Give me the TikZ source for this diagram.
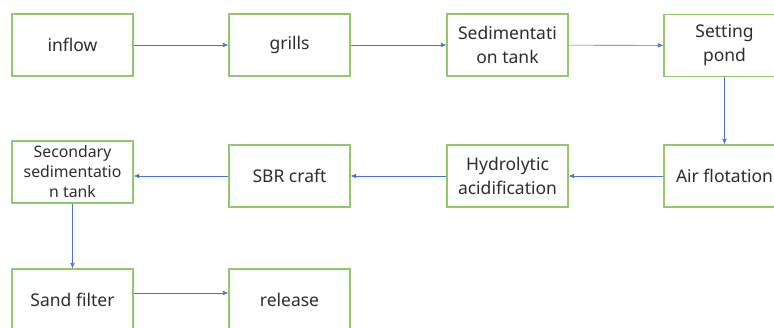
\documentclass[tikz,border=0pt]{standalone}
\usepackage{fontspec}
\setmainfont{Noto Sans}
\usetikzlibrary{arrows.meta}
\definecolor{boxgreen}{RGB}{146,200,110}
\definecolor{flowblue}{RGB}{72,118,205}
\definecolor{txtgray}{RGB}{45,45,45}

\begin{document}
\begin{tikzpicture}[x=1pt,y=-1pt,
    stepbox/.style={draw=boxgreen, line width=1.1pt, fill=white, minimum width=121pt, minimum height=62pt, inner sep=0pt, align=center, text=txtgray, font=\fontsize{17.5}{24}\selectfont},
    flow/.style={draw=flowblue, line width=0.6pt, -{Latex[length=5.5pt,width=4.5pt]}}]
       \useasboundingbox (0,0) rectangle (774,327);
       \clip (0,0) rectangle (774,327);
       % first row
       \node[stepbox] (inflow) at (72.5, 45) {inflow};
       \node[stepbox] (grills) at (289.5, 45) {grills};
       \node[stepbox] (sedtank) at (507.5, 45) {Sedimentati\\on tank};
       \node[stepbox] (pond) at (724.5, 45.5) {Setting\\pond};
       % second row
       \node[stepbox, font=\fontsize{15.8}{20}\selectfont] (sectank) at (72.5, 172) {Secondary\\sedimentatio\\n tank};
       \node[stepbox] (sbr) at (289.5, 176) {SBR craft};
       \node[stepbox] (hydro) at (507.5, 176) {Hydrolytic\\acidification};
       \node[stepbox] (air) at (724.5, 176) {Air flotation};
       % third row
       \node[stepbox] (sand) at (72.5, 300) {Sand filter};
       \node[stepbox] (release) at (289.5, 300) {release};

       \draw[flow] (inflow) -- (grills);
       \draw[flow] (grills) -- (sedtank);
       \draw[flow] (sedtank) -- (pond);
       \draw[flow] (pond) -- (air);
       \draw[flow] (air) -- (hydro);
       \draw[flow] (hydro) -- (sbr);
       \draw[flow] (sbr.west) -- (sbr.west -| sectank.east);
       \draw[flow] (sectank) -- (sand);
       \draw[flow] ([yshift=7pt]sand.east) -- ([yshift=7pt]sand.east -| release.west);
      \end{tikzpicture}
\end{document}
